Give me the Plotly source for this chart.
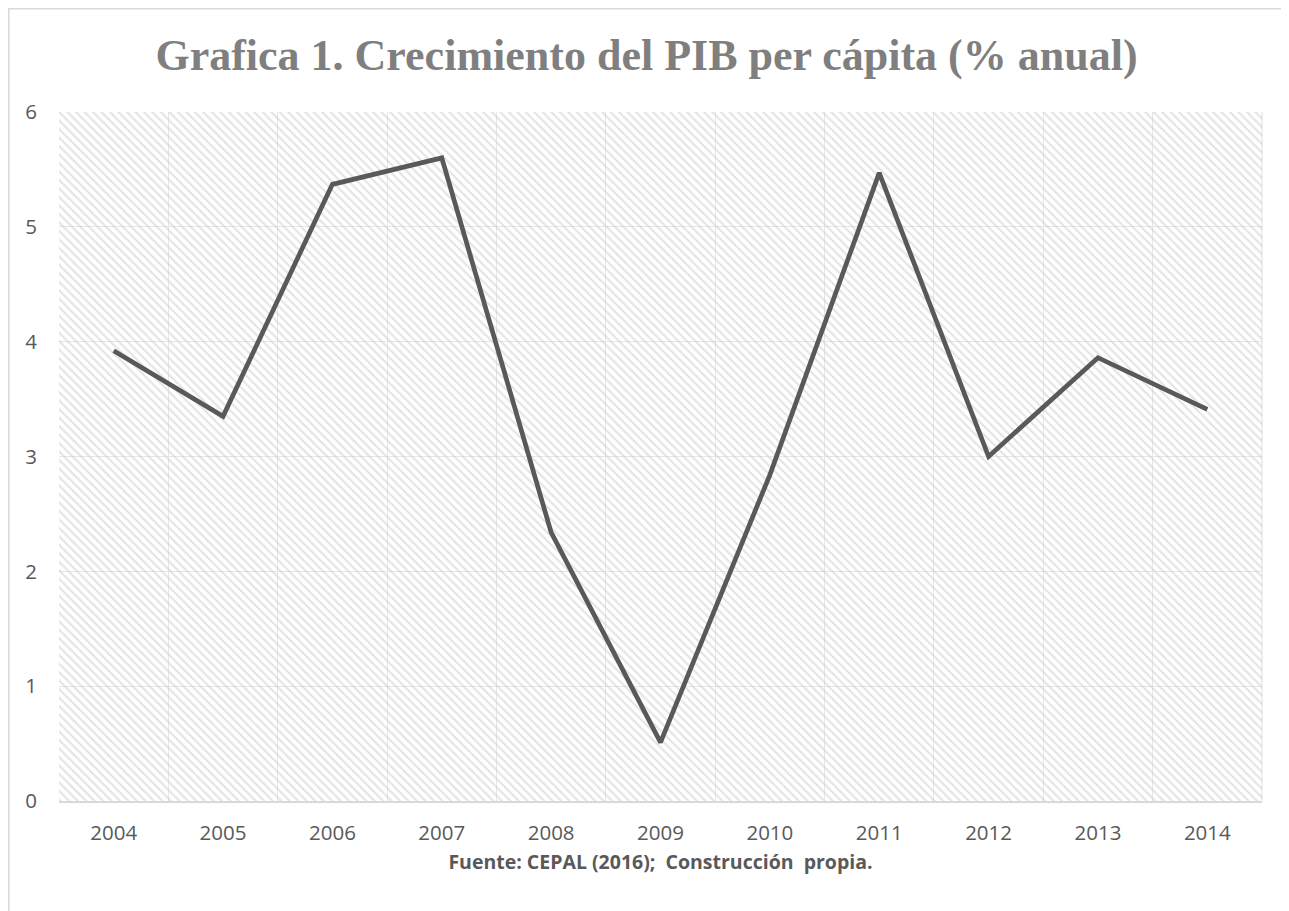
import plotly.graph_objects as go

years = ["2004", "2005", "2006", "2007", "2008", "2009", "2010", "2011", "2012", "2013", "2014"]
growth = [3.92, 3.35, 5.37, 5.60, 2.34, 0.51, 2.84, 5.47, 3.00, 3.86, 3.41]
y_ticks = [0, 1, 2, 3, 4, 5, 6]
y_max = 6

title_text = "Grafica 1. Crecimiento del PIB per cápita (% anual)"
source_text = "Fuente: CEPAL (2016);\u00a0 Construcción\u00a0 propia."

W, H = 1277, 903
L, R, T, B = 51, 23, 104, 110
pw, ph = W - L - R, H - T - B

fig = go.Figure()

# hatched plot-area background (Excel pattern fill)
fig.add_trace(go.Bar(
    x=years, y=[y_max] * len(years), width=1,
    marker=dict(color="rgba(0,0,0,0)", line=dict(width=0),
                pattern=dict(shape="\\", fgcolor="#c8c8c8", bgcolor="rgba(0,0,0,0)",
                             size=6, solidity=0.35)),
    hoverinfo="skip", showlegend=False,
))

fig.add_trace(go.Scatter(
    x=years, y=growth, mode="lines",
    line=dict(color="#595959", width=4.7),
    showlegend=False,
))

fig.update_layout(
    width=W, height=H,
    margin=dict(l=L, r=R, t=T, b=B),
    paper_bgcolor="white", plot_bgcolor="white",
    bargap=0,
    title=dict(text="<b>" + title_text + "</b>", x=0.5, xanchor="center",
               y=1 - 47 / H, yanchor="middle",
               font=dict(family="Liberation Serif", size=44, color="#7f7f7f")),
    xaxis=dict(type="category", range=[-0.5, 10.5], tickson="boundaries",
               automargin=False,
               showgrid=True, gridcolor="#e6e6e6", gridwidth=1.3,
               showline=True, linecolor="#d9d9d9", linewidth=1.5, mirror=False,
               ticks="", ticklabelstandoff=13,
               tickfont=dict(family="Open Sans", size=20.5, color="#595959"),
               title=dict(text="<b>" + source_text + "</b>", standoff=10,
                          font=dict(family="Open Sans", size=19.5, color="#595959"))),
    yaxis=dict(range=[0, y_max], tickvals=y_ticks, showgrid=True, gridcolor="#e6e6e6",
               automargin=False,
               gridwidth=1.3, zeroline=False, showline=False, ticks="",
               ticklabelstandoff=21,
               tickfont=dict(family="Open Sans", size=20.5, color="#595959")),
    shapes=[
        dict(type="line", xref="paper", yref="paper", x0=1, x1=1, y0=0, y1=1,
             line=dict(color="#e6e6e6", width=1.3), layer="below"),
        dict(type="rect", xref="paper", yref="paper",
             x0=(-L + 0.8) / pw, x1=(W - L - 0.8) / pw,
             y0=-(B + 5) / ph, y1=(ph + T - 0.8) / ph,
             line=dict(color="#d9d9d9", width=1.6), fillcolor="rgba(0,0,0,0)"),
    ],
)

fig.write_html("out.html")
